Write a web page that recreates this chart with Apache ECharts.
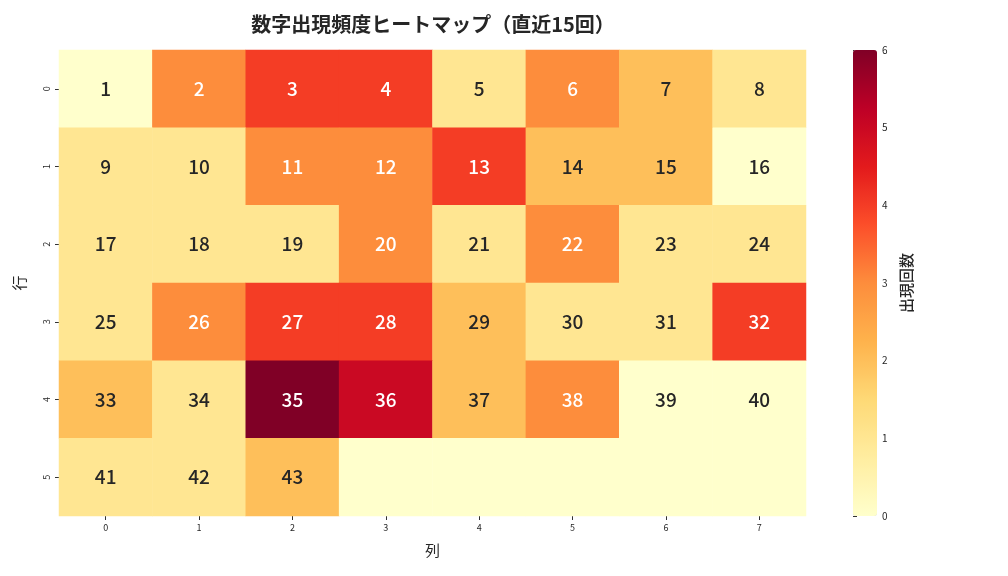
<!DOCTYPE html>
<html><head><meta charset="utf-8">
<script src="https://cdn.jsdelivr.net/npm/echarts@6/dist/echarts.min.js"></script>
<style>html,body{margin:0;padding:0;background:#fff}#c{width:1008px;height:576px}</style>
</head><body><div id="c"></div>
<script>
const colLabels = ['0','1','2','3','4','5','6','7'];
const rowLabels = ['0','1','2','3','4','5'];
// appearance counts, row by row (numbers 1..43, then empty cells)
const row0 = [0, 3, 4, 4, 1, 3, 2, 1];
const row1 = [1, 1, 3, 3, 4, 2, 2, 0];
const row2 = [1, 1, 1, 3, 1, 3, 1, 1];
const row3 = [1, 3, 4, 4, 2, 1, 1, 4];
const row4 = [2, 1, 6, 5, 2, 3, 0, 0];
const row5 = [1, 1, 2, 0, 0, 0, 0, 0];
const cellNumbers = [
  [1,2,3,4,5,6,7,8],
  [9,10,11,12,13,14,15,16],
  [17,18,19,20,21,22,23,24],
  [25,26,27,28,29,30,31,32],
  [33,34,35,36,37,38,39,40],
  [41,42,43,'','','','',''],
];
const colorTicks = [0,1,2,3,4,5,6];

const rows = [row0,row1,row2,row3,row4,row5];
const data = [];
rows.forEach((r, ri) => r.forEach((v, ci) => {
  data.push({value:[ci, ri, v, cellNumbers[ri][ci]],
    label:{color: v >= 3 ? '#ffffff' : '#262626'}});
}));

const chart = echarts.init(document.getElementById('c'));
const font = 'Noto Sans CJK JP';
chart.setOption({
  backgroundColor:'#fff',
  animation:false,
  textStyle:{fontFamily:font},
  title:{text:'数字出現頻度ヒートマップ（直近15回）', left:428, top:9, textAlign:'center',
    textStyle:{fontSize:20, fontWeight:'bold', color:'#262626', fontFamily:font}},
  grid:[{left:59, right:202, top:50, bottom:60},
        {left:853, width:24, top:50, height:466}],
  xAxis:[{type:'category', data:colLabels, gridIndex:0,
    axisLine:{show:false}, axisTick:{show:true, alignWithLabel:true, length:4, lineStyle:{color:'#333'}},
    axisLabel:{fontSize:9, color:'#262626', margin:7},
    splitLine:{show:false}, name:'列', nameLocation:'middle', nameGap:27,
    nameTextStyle:{fontSize:15, color:'#262626'}},
    {type:'value', gridIndex:1, show:false, min:0, max:1}],
  yAxis:[{type:'category', data:rowLabels, inverse:true, gridIndex:0,
    axisLine:{show:false}, axisTick:{show:true, alignWithLabel:true, length:4, lineStyle:{color:'#333'}},
    axisLabel:{fontSize:9, color:'#262626', rotate:90, margin:8},
    name:'行', nameLocation:'middle', nameGap:32, nameRotate:90,
    nameTextStyle:{fontSize:15, color:'#262626'}},
    {type:'value', gridIndex:1, position:'right', min:0, max:6, interval:1,
     axisLine:{show:false}, splitLine:{show:false},
     axisTick:{show:true, length:4, lineStyle:{color:'#333'}},
     axisLabel:{fontSize:10, color:'#262626', margin:5},
     name:'出現回数', nameLocation:'middle', nameGap:22, nameRotate:90,
     nameTextStyle:{fontSize:15, fontWeight:500, color:'#262626'}}],
  visualMap:{type:'continuous', min:0, max:6, seriesIndex:0, dimension:2,
    left:853, top:50, itemWidth:24, itemHeight:466, padding:0,
    calculable:false, showLabel:false, text:null, realtime:false, hoverLink:false,
    inRange:{color:['#ffffcc','#ffeda0','#fed976','#feb24c','#fd8d3c','#fc4e2a','#e31a1c','#bd0026','#800026']}},
  series:[{type:'heatmap', data:data, xAxisIndex:0, yAxisIndex:0,
    label:{show:true, fontSize:19, fontWeight:500, formatter:p=>p.value[3]},
    itemStyle:{borderWidth:0}}]
});
</script></body></html>
